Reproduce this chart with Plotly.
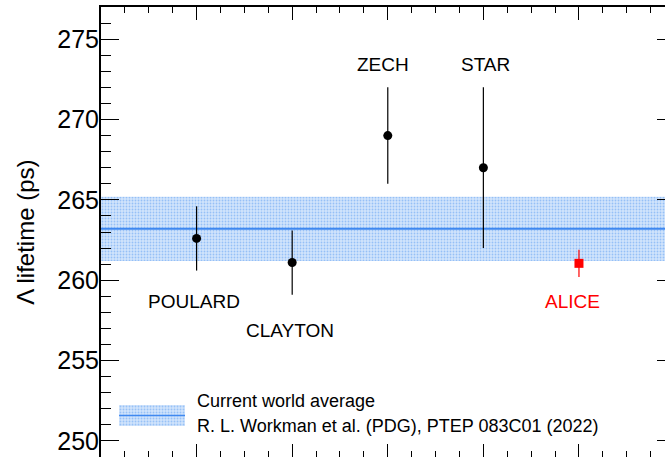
import plotly.graph_objects as go

# ---- data ----
experiments = ["POULARD", "CLAYTON", "ZECH", "STAR"]
exp_x = [1, 2, 3, 4]
exp_tau = [262.6, 261.1, 269.0, 267.0]
exp_err = [2.0, 2.0, 3.0, 5.0]

alice_name = "ALICE"
alice_x = [5]
alice_tau = [261.05]
alice_err = [0.85]

pdg_avg = 263.2
pdg_err = 2.0
legend_lines = ["Current world average", "R. L. Workman et al. (PDG), PTEP 083C01 (2022)"]

# label positions (style)
label_y = {"POULARD": 258.7, "CLAYTON": 256.9, "ZECH": 273.45, "STAR": 273.45, "ALICE": 258.7}
label_dx = {"POULARD": -0.03, "CLAYTON": -0.02, "ZECH": -0.05, "STAR": 0.02, "ALICE": -0.07}

X_RANGE = [0, 5.9]
Y_RANGE = [249, 277]
FONT = "Arial, Liberation Sans, sans-serif"
BAND_BG = "#d2e4fb"
BAND_FG = "#5a9cf2"
LINE_BLUE = "#3f88f0"

fig = go.Figure()

# world-average band
fig.add_trace(go.Scatter(x=X_RANGE, y=[pdg_avg - pdg_err] * 2, mode="lines",
                         line=dict(width=0), showlegend=False, hoverinfo="skip"))
fig.add_trace(go.Scatter(x=X_RANGE, y=[pdg_avg + pdg_err] * 2, mode="lines",
                         line=dict(width=0), fill="tonexty", fillcolor=BAND_BG,
                         fillpattern=dict(shape=".", bgcolor=BAND_BG, fgcolor=BAND_FG,
                                          size=3, solidity=0.3),
                         showlegend=False, hoverinfo="skip"))
fig.add_trace(go.Scatter(x=X_RANGE, y=[pdg_avg] * 2, mode="lines",
                         line=dict(color=LINE_BLUE, width=2), showlegend=False))

# previous measurements
fig.add_trace(go.Scatter(x=exp_x, y=exp_tau, mode="markers",
                         marker=dict(color="black", size=9, symbol="circle"),
                         error_y=dict(type="data", array=exp_err, color="black",
                                      thickness=1.2, width=0),
                         showlegend=False))
# ALICE
fig.add_trace(go.Scatter(x=alice_x, y=alice_tau, mode="markers",
                         marker=dict(color="#ff0000", size=9, symbol="square"),
                         error_y=dict(type="data", array=alice_err, color="#ff0000",
                                      thickness=1.2, width=0),
                         showlegend=False))

# dummy trace for mirrored axes
fig.add_trace(go.Scatter(x=[None], y=[None], xaxis="x2", yaxis="y2", showlegend=False))

# legend key on its own small axes
fig.add_trace(go.Scatter(x=[0, 1], y=[0, 0], xaxis="x3", yaxis="y3", mode="lines",
                         line=dict(width=0), showlegend=False, hoverinfo="skip"))
fig.add_trace(go.Scatter(x=[0, 1], y=[1, 1], xaxis="x3", yaxis="y3", mode="lines",
                         line=dict(width=0), fill="tonexty", fillcolor=BAND_BG,
                         fillpattern=dict(shape=".", bgcolor=BAND_BG, fgcolor=BAND_FG,
                                          size=3, solidity=0.3),
                         showlegend=False, hoverinfo="skip"))
fig.add_trace(go.Scatter(x=[0, 1], y=[0.5, 0.5], xaxis="x3", yaxis="y3", mode="lines",
                         line=dict(color=LINE_BLUE, width=1.5), showlegend=False))

annotations = []
for name, xv in zip(experiments, exp_x):
    annotations.append(dict(x=xv + label_dx[name], y=label_y[name], xref="x", yref="y",
                            text=name, showarrow=False,
                            font=dict(family=FONT, size=19, color="black")))
annotations.append(dict(x=alice_x[0] + label_dx[alice_name], y=label_y[alice_name],
                        xref="x", yref="y", text=alice_name, showarrow=False,
                        font=dict(family=FONT, size=19, color="#ff0000")))
annotations.append(dict(x=-0.135, y=0.5, xref="paper", yref="paper",
                        text="Λ lifetime (ps)", textangle=-90, showarrow=False,
                        xanchor="center", yanchor="middle",
                        font=dict(family=FONT, size=24, color="black")))
annotations.append(dict(x=0.167, y=0.125, xref="paper", yref="paper", text=legend_lines[0],
                        showarrow=False, xanchor="left", yanchor="middle",
                        font=dict(family=FONT, size=18, color="black")))
annotations.append(dict(x=0.167, y=0.07, xref="paper", yref="paper", text=legend_lines[1],
                        showarrow=False, xanchor="left", yanchor="middle",
                        font=dict(family=FONT, size=18, color="black")))

xcommon = dict(range=X_RANGE, ticks="inside", ticklen=13, tickwidth=1, tickcolor="black",
               tick0=0, dtick=1, showticklabels=False, showgrid=False, zeroline=False,
               minor=dict(ticks="inside", ticklen=6, tickwidth=1, tickcolor="black",
                          dtick=0.25, showgrid=False))

fig.update_layout(
    width=665, height=457,
    margin=dict(l=101, r=0, t=7, b=0),
    plot_bgcolor="white", paper_bgcolor="white",
    showlegend=False,
    xaxis=dict(**xcommon, showline=False),
    xaxis2=dict(**xcommon, overlaying="x", side="top", matches="x",
                showline=True, linecolor="black", linewidth=2),
    yaxis=dict(range=Y_RANGE, ticks="inside", ticklen=18, tickwidth=1, tickcolor="black",
               tick0=250, dtick=5, showgrid=False, zeroline=False,
               showline=True, linecolor="black", linewidth=2,
               ticklabelstandoff=-5,
               tickfont=dict(family=FONT, size=25, color="black"),
               minor=dict(ticks="inside", ticklen=10, tickwidth=1, tickcolor="black",
                          dtick=1, showgrid=False)),
    yaxis2=dict(range=Y_RANGE, overlaying="y", side="right", matches="y",
                ticks="inside", ticklen=8, tickwidth=1, tickcolor="black",
                tick0=250, dtick=5, showticklabels=False, showgrid=False,
                zeroline=False, showline=False),
    xaxis3=dict(domain=[0.032, 0.149], range=[0, 1], visible=False, anchor="y3"),
    yaxis3=dict(domain=[0.069, 0.1156], range=[0, 1], visible=False, anchor="x3"),
    annotations=annotations,
)

fig.write_html("out.html",
               config={"displayModeBar": False},
               post_script="document.body.style.margin='0px';"
                           "document.body.style.overflow='hidden';")
